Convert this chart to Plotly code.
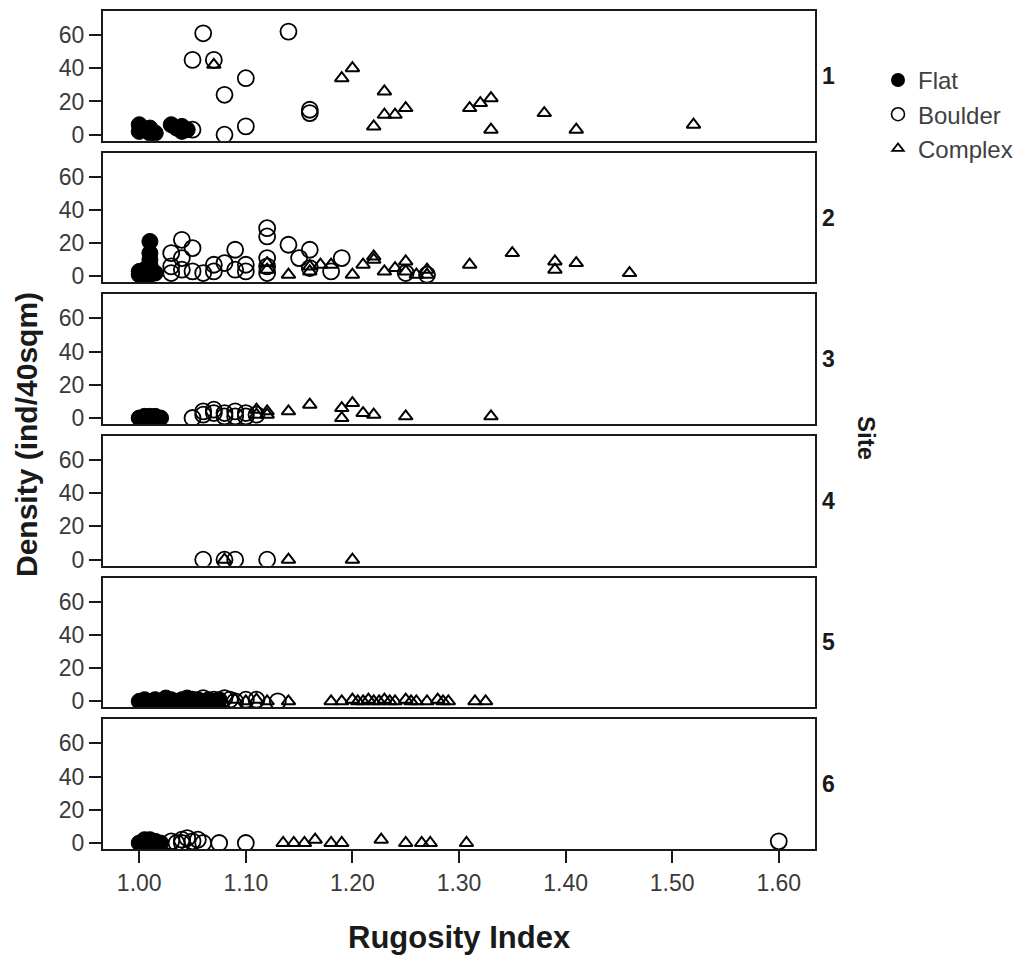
import plotly.graph_objects as go

# ---------------- data ----------------
sites = ["1", "2", "3", "4", "5", "6"]
categories = ["Flat", "Boulder", "Complex"]

flat_x = [
    [1.00, 1.00, 1.005, 1.01, 1.01, 1.015, 1.03, 1.035, 1.04, 1.04, 1.045],
    [1.00, 1.005, 1.01, 1.01, 1.01, 1.01, 1.01, 1.015, 1.005, 1.00],
    [1.00, 1.005, 1.01, 1.015, 1.02, 1.01],
    [],
    [1.00, 1.005, 1.01, 1.015, 1.02, 1.025, 1.03, 1.035, 1.04, 1.045, 1.05, 1.055, 1.06, 1.065, 1.07, 1.075],
    [1.00, 1.005, 1.01, 1.015, 1.01, 1.005, 1.02],
]
flat_y = [
    [6, 2, 3, 1, 4, 1, 6, 4, 5, 2, 3],
    [1, 4, 21, 14, 10, 7, 1, 2, 0, 3],
    [0, 1, 0, 1, 0, 1],
    [],
    [0, 1, 0, 1, 0, 2, 1, 0, 1, 2, 0, 1, 0, 1, 0, 1],
    [0, 1, 0, 1, 2, 2, 0],
]

boulder_x = [
    [1.05, 1.06, 1.05, 1.07, 1.08, 1.08, 1.10, 1.10, 1.14, 1.16, 1.16],
    [1.03, 1.04, 1.05, 1.03, 1.04, 1.03, 1.04, 1.05, 1.06, 1.07, 1.07, 1.08, 1.09, 1.09, 1.10,
     1.10, 1.12, 1.12, 1.12, 1.12, 1.12, 1.14, 1.15, 1.16, 1.19, 1.18, 1.16, 1.25, 1.27],
    [1.05, 1.06, 1.06, 1.07, 1.07, 1.08, 1.08, 1.09, 1.09, 1.10, 1.10, 1.11],
    [1.06, 1.08, 1.09, 1.12],
    [1.05, 1.06, 1.07, 1.08, 1.085, 1.09, 1.10, 1.11, 1.13],
    [1.03, 1.035, 1.04, 1.045, 1.05, 1.055, 1.06, 1.075, 1.10, 1.60, 1.04],
]
boulder_y = [
    [3, 61, 45, 45, 24, 0, 34, 5, 62, 15, 13],
    [14, 22, 17, 6, 11, 2, 4, 3, 2, 7, 3, 8, 16, 4, 7,
     3, 29, 24, 11, 6, 2, 19, 11, 16, 11, 3, 5, 2, 1],
    [0, 2, 4, 3, 5, 1, 3, 4, 1, 3, 1, 2],
    [0, 0, 0, 0],
    [1, 2, 1, 2, 1, 0, 1, 1, 0],
    [1, 0, 2, 3, 1, 2, 0, 0, 0, 1, 0],
]

complex_x = [
    [1.07, 1.19, 1.20, 1.22, 1.23, 1.23, 1.24, 1.25, 1.31, 1.32, 1.33, 1.33, 1.38, 1.41, 1.52],
    [1.12, 1.12, 1.14, 1.16, 1.16, 1.17, 1.18, 1.20, 1.21, 1.22, 1.22, 1.23, 1.24, 1.25, 1.25,
     1.26, 1.27, 1.27, 1.31, 1.35, 1.39, 1.39, 1.41, 1.46],
    [1.11, 1.12, 1.14, 1.16, 1.19, 1.19, 1.20, 1.21, 1.22, 1.25, 1.33, 1.11, 1.12],
    [1.08, 1.14, 1.20],
    [1.09, 1.10, 1.11, 1.12, 1.14, 1.18, 1.19, 1.20, 1.205, 1.21, 1.215, 1.22, 1.225, 1.23,
     1.235, 1.24, 1.25, 1.255, 1.26, 1.27, 1.28, 1.285, 1.29, 1.315, 1.325],
    [1.135, 1.145, 1.155, 1.165, 1.18, 1.19, 1.227, 1.25, 1.265, 1.273, 1.307],
]
complex_y = [
    [42, 34, 40, 5, 26, 12, 12, 16, 16, 19, 22, 3, 13, 3, 6],
    [8, 4, 1, 3, 6, 7, 7, 1, 7, 12, 10, 3, 5, 9, 3,
     1, 4, 1, 7, 14, 9, 4, 8, 2],
    [5, 4, 4, 8, 6, 0, 9, 3, 2, 1, 1, 2, 2],
    [0, 0, 0],
    [1, 0, 1, 0, 0, 0, 0, 1, 0, 0, 1, 0, 0, 1, 0, 0, 1, 0, 0, 0, 1, 0, 0, 0, 0],
    [0, 0, 0, 2, 0, 0, 2, 0, 0, 0, 0],
]

x_tick_vals = [1.0, 1.1, 1.2, 1.3, 1.4, 1.5, 1.6]
x_tick_text = ["1.00", "1.10", "1.20", "1.30", "1.40", "1.50", "1.60"]
y_tick_vals = [0, 20, 40, 60]

# ---------------- layout geometry ----------------
# page body has an 8px margin, so figure coords = screen coords - 8
OFF = 8
W, H = 1022, 951
ML, MT = 103 - OFF, 9 - OFF
MR = W - (815 - OFF)
MB = H - (849 - OFF)
PW = W - ML - MR
PH = H - MT - MB
PANEL_H = 130
PANEL_STEP = 142
X_RANGE = [0.966, 1.634]
Y_RANGE = [-3.6, 74.4]

FONT = "Liberation Sans, Arial, sans-serif"
TICK_COLOR = "#3a3a3a"
LINE_COLOR = "#1a1a1a"


def py2paper(py):
    # py given in screen pixels
    return 1 - (py - OFF - MT) / PH


def px2paper(px):
    return (px - OFF - ML) / PW


styles = {
    "Flat": dict(symbol="circle", size=16, color="black", line=dict(width=1, color="black")),
    "Boulder": dict(symbol="circle-open", size=16, color="black", line=dict(width=1.8, color="black")),
    "Complex": dict(symbol="triangle-up-open", size=12, color="black", line=dict(width=2, color="black")),
}
legend_styles = {
    "Flat": dict(symbol="circle", size=14, color="black"),
    "Boulder": dict(symbol="circle-open", size=13, color="black", line=dict(width=1.6, color="black")),
    "Complex": dict(symbol="triangle-up-open", size=10, color="black", line=dict(width=1.8, color="black")),
}

fig = go.Figure()
series = {"Flat": (flat_x, flat_y), "Boulder": (boulder_x, boulder_y), "Complex": (complex_x, complex_y)}

for i, site in enumerate(sites):
    xref = "x" if i == 0 else f"x{i+1}"
    yref = "y" if i == 0 else f"y{i+1}"
    for cat in ["Complex", "Boulder", "Flat"]:
        xs, ys = series[cat]
        fig.add_trace(go.Scatter(
            x=xs[i], y=ys[i], mode="markers", xaxis=xref, yaxis=yref,
            marker=styles[cat], showlegend=False, legendgroup=cat, hoverinfo="x+y",
        ))

for cat in categories:
    fig.add_trace(go.Scatter(
        x=[None], y=[None], mode="markers", name=cat, marker=legend_styles[cat],
        showlegend=True, legendgroup=cat,
    ))

layout = dict(
    width=W, height=H,
    margin=dict(l=ML, r=MR, t=MT, b=MB),
    paper_bgcolor="white", plot_bgcolor="white",
    font=dict(family=FONT, size=21, color=TICK_COLOR),
    legend=dict(
        x=px2paper(878), y=py2paper(56), xanchor="left", yanchor="top",
        font=dict(family=FONT, size=24, color="#404040"),
        tracegroupgap=0, bgcolor="rgba(0,0,0,0)", itemsizing="trace",
    ),
    annotations=[],
)

for i in range(6):
    xa = "xaxis" if i == 0 else f"xaxis{i+1}"
    ya = "yaxis" if i == 0 else f"yaxis{i+1}"
    top = 9 + i * PANEL_STEP
    bottom = top + PANEL_H
    layout[xa] = dict(
        domain=[0, 1], anchor="y" if i == 0 else f"y{i+1}", range=X_RANGE,
        showline=True, mirror=True, linecolor=LINE_COLOR, linewidth=2,
        showgrid=False, zeroline=False,
        ticks="outside" if i == 5 else "", ticklen=12, tickwidth=2, tickcolor=LINE_COLOR,
        tickvals=x_tick_vals, ticktext=x_tick_text, showticklabels=(i == 5),
        tickfont=dict(family=FONT, size=23, color=TICK_COLOR),
        matches="x" if i > 0 else None,
    )
    layout[ya] = dict(
        domain=[py2paper(bottom), py2paper(top)], anchor="x" if i == 0 else f"x{i+1}",
        range=Y_RANGE, showline=True, mirror=True, linecolor=LINE_COLOR, linewidth=2,
        showgrid=False, zeroline=False, ticks="outside", ticklen=12, tickwidth=2,
        tickcolor=LINE_COLOR, tickvals=y_tick_vals,
        tickfont=dict(family=FONT, size=23, color=TICK_COLOR),
    )
    layout["annotations"].append(dict(
        text=f"<b>{sites[i]}</b>", x=px2paper(828), y=py2paper((top + bottom) / 2),
        xref="paper", yref="paper", showarrow=False, xanchor="center", yanchor="middle",
        font=dict(family=FONT, size=23, color="#1a1a1a"),
    ))

layout["annotations"] += [
    dict(text="<b>Site</b>", x=px2paper(866), y=py2paper(437), xref="paper", yref="paper",
         showarrow=False, textangle=90, xanchor="center", yanchor="middle",
         font=dict(family=FONT, size=24, color="#1a1a1a")),
    dict(text="<b>Density (ind/40sqm)</b>", x=px2paper(27), y=py2paper(434), xref="paper", yref="paper",
         showarrow=False, textangle=-90, xanchor="center", yanchor="middle",
         font=dict(family=FONT, size=30, color="#1a1a1a")),
    dict(text="<b>Rugosity Index</b>", x=px2paper(459), y=py2paper(938), xref="paper", yref="paper",
         showarrow=False, xanchor="center", yanchor="middle",
         font=dict(family=FONT, size=31, color="#1a1a1a")),
]

fig.update_layout(**layout)
fig.write_html("out.html")
